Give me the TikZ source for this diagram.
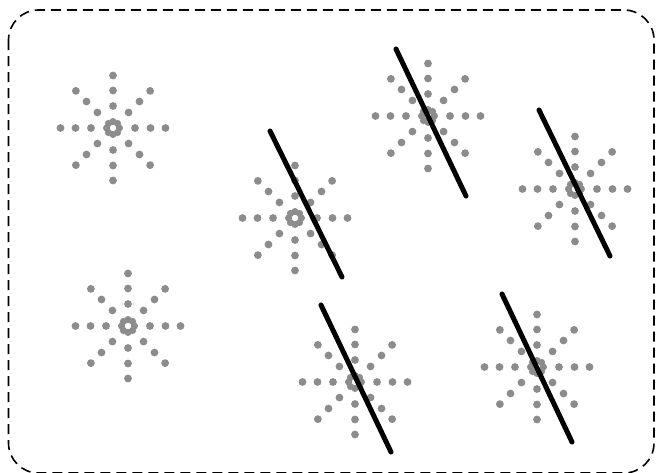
\documentclass[tikz,border=0pt]{standalone}
\usetikzlibrary{calc}
\definecolor{dotgray}{RGB}{140,140,140}

\begin{document}
\begin{tikzpicture}[
  x=1pt, y=-1pt,
  dotty/.style={fill=dotgray},
  cutline/.style={line width=5pt, line cap=round},
  frame/.style={dash pattern=on 10pt off 6pt, line width=1.6pt,
                rounded corners=30pt},
  burst/.pic={
    \foreach \a in {0,45,...,315} {
      \foreach \r in {22,37.5,52.5}
        \fill[dotty] (\a:\r) circle (3.9pt);
      \fill[dotty] (\a:6.4) circle (3.6pt);
    }
  }
]
  \useasboundingbox (0,0) rectangle (656,472);

  % frame
  \draw[frame] (8.5,10) rectangle (654,473);

  % burst centres
  \coordinate (s1) at (113,128);
  \coordinate (s2) at (128,326);
  \coordinate (s3) at (295,218);
  \coordinate (s4) at (428,116);
  \coordinate (s5) at (575,189);
  \coordinate (s6) at (355,382);
  \coordinate (s7) at (537,367);

  \foreach \i in {1,...,7}
    \pic at (s\i) {burst};

  % cut ends
  \coordinate (c3a) at ($(s3)+(-25,-87)$);
  \coordinate (c3b) at ($(s3)+(47,59)$);
  \coordinate (c4a) at ($(s4)+(-32,-67)$);
  \coordinate (c4b) at ($(s4)+(38,80)$);
  \coordinate (c5a) at ($(s5)+(-36,-79)$);
  \coordinate (c5b) at ($(s5)+(35,67)$);
  \coordinate (c6a) at ($(s6)+(-34,-77)$);
  \coordinate (c6b) at ($(s6)+(36,70)$);
  \coordinate (c7a) at ($(s7)+(-35,-73)$);
  \coordinate (c7b) at ($(s7)+(35,75)$);

  % cut lines
  \foreach \i in {3,...,7}
    \draw[cutline] (c\i a) -- (c\i b);
\end{tikzpicture}
\end{document}
